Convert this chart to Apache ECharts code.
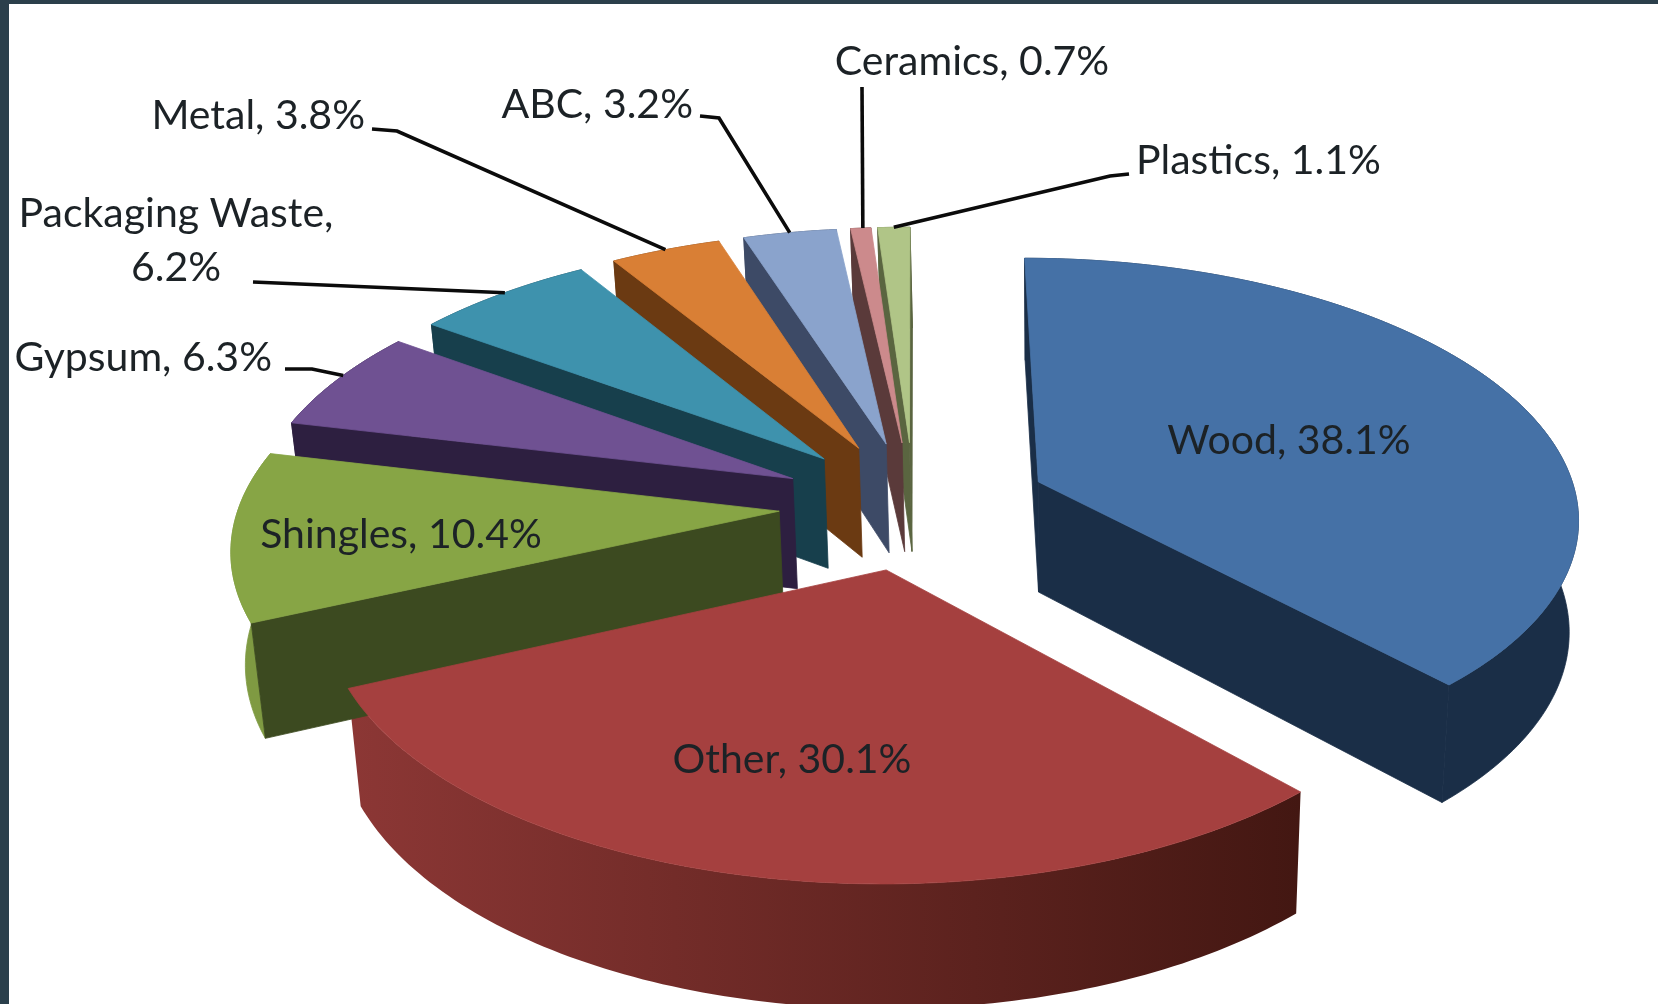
<!DOCTYPE html>
<html>
<head>
<meta charset="utf-8">
<style>
html,body{margin:0;padding:0;width:1658px;height:1004px;overflow:hidden;background:#2b3f4b}
#paper{position:absolute;left:9px;top:4px;right:0;bottom:0;background:#fff}
#chart{position:absolute;left:0;top:0;width:1658px;height:1004px}
</style>
<script src="https://cdn.jsdelivr.net/npm/echarts@6/dist/echarts.min.js"></script>
</head>
<body>
<div id="paper"></div>
<div id="chart"></div>
<script>
// ---- data ----
var categories = ['Wood','Other','Shingles','Gypsum','Packaging Waste','Metal','ABC','Ceramics','Plastics'];
var values = [38.1,30.1,10.4,6.3,6.2,3.8,3.2,0.7,1.1];

// ---- styles ----
var topColors  = ['#4571a6','#a5403f','#87a545','#6f5192','#3e92ad','#d97f35','#8aa3cc','#cc8a8c','#b0c587'];
var sideColors = ['#1a2e47','#541a18','#3c4a20','#2d1f40','#173f4c','#6b3a12','#3d4a66','#5a3a3a','#5a6540'];
var rimLeft    = ['#1a2e47','#8c3735','#7f9a42','#2d1f40','#173f4c','#6b3a12','#3d4a66','#5a3a3a','#5a6540'];
var rimRight   = ['#1a2e47','#431712','#7f9a42','#2d1f40','#173f4c','#6b3a12','#3d4a66','#5a3a3a','#5a6540'];

// ---- view of the tilted pie ----
var view = {cx:914, cy:505, rx:540, ry:257, persp:0.125, depth:113, shrink:0.018, vanishX:1051, explode:0.25};
var FONT = '41px Lato, "Open Sans", sans-serif';

// label placement: anchor of the text; leader is the part of the line beside the label
var labelPlace = [
  {x:1289, y:441, align:'center'},
  {x:792,  y:760, align:'center'},
  {x:401,  y:535, align:'center'},
  {x:272,  y:358, align:'right', leader:[[285,369],[312,369]], rimAt:0.55},
  {x:176,  y:241, align:'center', wrap:true, leader:[[253,282]], rimAt:0.52},
  {x:365,  y:116, align:'right', leader:[[372,129],[397,131]], rimAt:0.5},
  {x:693,  y:105, align:'right', leader:[[700,116],[719,118]], rimAt:0.5},
  {x:972,  y:62,  align:'center', leader:[[862,87]], rimAt:0.6},
  {x:1136, y:161, align:'left', leader:[[1129,174],[1110,176]], rimAt:0.5}
];

var total = values.reduce(function(a,b){return a+b;},0);
var spans = [], acc = 0;
values.forEach(function(v){
  var a0 = acc/total*Math.PI*2; acc += v;
  spans.push([a0, acc/total*Math.PI*2]);
});

function project(i, a, r, z){
  var mid = (spans[i][0]+spans[i][1])/2;
  var u = view.explode*Math.sin(mid) + r*Math.sin(a);
  var v = -view.explode*Math.cos(mid) - r*Math.cos(a);
  var w = 1-view.persp*v;
  var s = 1+view.shrink*z;
  var flatX = view.cx + view.rx*u/w;
  return [view.vanishX + (flatX-view.vanishX)/s, view.cy + (view.ry*v + view.depth*z)/(w*s)];
}
function area(p){
  var s=0; for(var i=0;i<p.length;i++){var q=p[(i+1)%p.length]; s+=p[i][0]*q[1]-q[0]*p[i][1];}
  return s;
}
function poly(points, fill, z2, edge){
  return {type:'polygon', silent:true, z2:z2, shape:{points:points},
    style:{fill:fill, stroke:edge||null, lineWidth:edge?0.8:0}};
}
function renderSlice(params, api){
  var i = api.value(0);
  var a0 = spans[i][0], a1 = spans[i][1];
  var n = Math.max(4, Math.ceil((a1-a0)/(Math.PI/180)));
  var topArc=[], botArc=[];
  for(var k=0;k<=n;k++){
    var a = a0+(a1-a0)*k/n;
    topArc.push(project(i,a,1,0));
    botArc.push(project(i,a,1,1));
  }
  var apex = project(i,0,0,0), apexB = project(i,0,0,1);
  var kids = [];
  kids.push(poly(topArc.concat(botArc.slice().reverse()), {
    type:'linear', x:0, y:0, x2:1, y2:0,
    colorStops:[{offset:0,color:rimLeft[i]},{offset:1,color:rimRight[i]}]
  }, 0, rimLeft[i]===rimRight[i] ? rimLeft[i] : null));
  var q0 = [topArc[0], apex, apexB, botArc[0]];
  var q1 = [apex, topArc[n], botArc[n], apexB];
  if(area(q0)>0) kids.push(poly(q0, sideColors[i], 1, sideColors[i]));
  if(area(q1)>0) kids.push(poly(q1, sideColors[i], 1, sideColors[i]));
  kids.push(poly([apex].concat(topArc), topColors[i], 2, topColors[i]));

  var place = labelPlace[i];
  if(place.leader){
    var t = a0+(a1-a0)*place.rimAt;
    var pts = place.leader.concat([project(i,t,1,0)]);
    kids.push({type:'polyline', silent:true, z2:50, shape:{points:pts},
      style:{stroke:'#0b0b0b', lineWidth:3.6, fill:null}});
  }
  var text = categories[i]+(place.wrap?',\n':', ')+values[i].toFixed(1)+'%';
  kids.push({type:'text', silent:true, z2:60, style:{
    text:text, x:place.x, y:place.y, font:FONT, fill:'#1c2226',
    align:place.align, verticalAlign:'middle', lineHeight:54
  }});
  return {type:'group', children:kids};
}

// painted from the back of the pie to the front
var paintOrder = [8,7,6,5,4,3,2,0,1];
var chart = echarts.init(document.getElementById('chart'), null, {renderer:'canvas'});
chart.setOption({
  animation:false,
  backgroundColor:'transparent',
  series:[{
    type:'custom',
    coordinateSystem:'none',
    renderItem:renderSlice,
    encode:{value:[0]},
    data:paintOrder.map(function(i){return [i, values[i]];})
  }]
});
</script>
</body>
</html>
